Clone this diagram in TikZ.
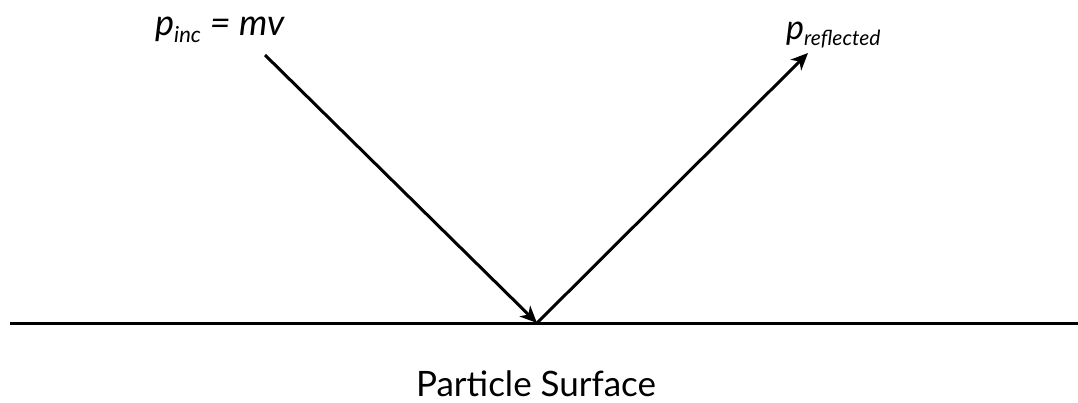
\documentclass[tikz,border=0pt]{standalone}
\usepackage{fontspec}
\setmainfont{Lato}
\usetikzlibrary{arrows.meta}
\begin{document}
\begin{tikzpicture}[x=1pt,y=-1pt,
  ray/.style={line width=3pt,-{Stealth[length=17pt,width=15pt,inset=5pt]}},
  lbl/.style={inner sep=0pt}]
\useasboundingbox (0,0) rectangle (1078,402);
\coordinate (L) at (10,323);
\coordinate (R) at (1078,323);
\coordinate (S) at (265,55);
\coordinate (H) at (537,323);
\coordinate (E) at (808,53);
\draw[line width=3pt] (L) -- (R);
\draw[ray] (S) -- (H);
\draw[ray] (H) -- (E);
\node[lbl,anchor=base west,font=\fontsize{36}{40}\selectfont] (pinc) at (155,35) {\itshape p\textsubscript{\fontsize{22}{26}\selectfont inc} = mv};
\node[lbl,anchor=base west,font=\fontsize{34}{40}\selectfont] (pref) at (786,39) {\itshape p\textsubscript{\fontsize{21}{26}\selectfont reflected}};
\node[lbl,anchor=base,font=\fontsize{35}{40}\selectfont] (surf) at (536,396) {Particle Surface};
\end{tikzpicture}
\end{document}
